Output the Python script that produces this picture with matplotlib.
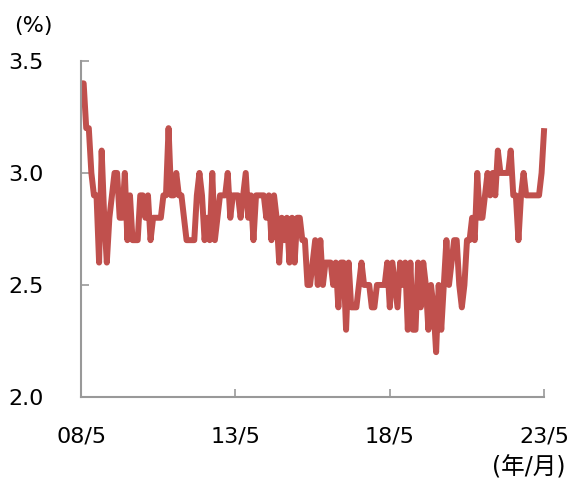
import matplotlib
matplotlib.use('Agg')
import matplotlib.pyplot as plt
import numpy as np

plt.rcParams['font.family'] = ['DejaVu Sans', 'Noto Sans CJK JP']

# monthly values, 2008/5 .. 2023/5
values = [
    3.4, 3.4, 3.2, 3.2, 3.0, 2.9, 2.9, 2.6, 3.1, 2.8,
    2.6, 2.8, 2.9, 3.0, 3.0, 2.8, 2.8, 3.0, 2.7, 2.9,
    2.7, 2.7, 2.7, 2.9, 2.9, 2.8, 2.9, 2.7, 2.8, 2.8,
    2.8, 2.8, 2.9, 2.9, 3.2, 2.9, 2.9, 3.0, 2.9, 2.9,
    2.8, 2.7, 2.7, 2.7, 2.7, 2.9, 3.0, 2.9, 2.7, 2.8,
    2.7, 3.0, 2.7, 2.8, 2.9, 2.9, 2.9, 3.0, 2.8, 2.9,
    2.9, 2.9, 2.8, 2.9, 3.0, 2.8, 2.9, 2.7, 2.9, 2.9,
    2.9, 2.9, 2.8, 2.9, 2.7, 2.9, 2.8, 2.6, 2.8, 2.7,
    2.8, 2.6, 2.8, 2.6, 2.8, 2.8, 2.7, 2.7, 2.5, 2.5,
    2.6, 2.7, 2.5, 2.7, 2.5, 2.6, 2.6, 2.6, 2.5, 2.6,
    2.4, 2.6, 2.6, 2.3, 2.6, 2.4, 2.4, 2.4, 2.5, 2.6,
    2.5, 2.5, 2.5, 2.4, 2.4, 2.5, 2.5, 2.5, 2.5, 2.6,
    2.4, 2.6, 2.5, 2.4, 2.6, 2.5, 2.6, 2.3, 2.6, 2.3,
    2.3, 2.6, 2.4, 2.6, 2.5, 2.3, 2.5, 2.4, 2.2, 2.5,
    2.3, 2.5, 2.7, 2.5, 2.6, 2.7, 2.7, 2.5, 2.4, 2.5,
    2.7, 2.7, 2.8, 2.7, 3.0, 2.8, 2.8, 2.9, 3.0, 2.9,
    3.0, 2.9, 3.1, 3.0, 3.0, 3.0, 3.0, 3.1, 2.9, 2.9,
    2.7, 2.9, 3.0, 2.9, 2.9, 2.9, 2.9, 2.9, 2.9, 3.0,
    3.2,
]
tick_pos = [0, 60, 120, 180]
tick_labels = ['08/5', '13/5', '18/5', '23/5']
y_ticks = [2.0, 2.5, 3.0, 3.5]

fig = plt.figure(figsize=(5.71, 4.8), dpi=100)
ax = fig.add_axes([0.142, 0.173, 0.811, 0.7])

x = np.arange(len(values))
ax.plot(x, values, color='#C0504D', lw=4.3, solid_joinstyle='round',
        solid_capstyle='butt', clip_on=False)

ax.set_xlim(0, 180)
ax.set_ylim(2.0, 3.5)
ax.set_xticks(tick_pos)
ax.set_xticklabels(tick_labels)
ax.set_yticks(y_ticks)
ax.set_yticklabels([f'{v:.1f}' for v in y_ticks])

for s in ['top', 'right']:
    ax.spines[s].set_visible(False)
for s in ['left', 'bottom']:
    ax.spines[s].set_color('#999999')
    ax.spines[s].set_linewidth(1.5)

ax.tick_params(axis='y', direction='in', length=6, width=1.2, color='#999999',
               labelsize=16, pad=27)
ax.tick_params(axis='x', direction='in', length=6, width=1.2, color='#999999',
               labelsize=16, pad=21)

fig.text(0.025, 0.945, '(%)', fontsize=16, va='center', ha='left')
fig.text(0.99, 0.027, '(年/月)', fontsize=17, va='center', ha='right')

fig.savefig('out.png', dpi=100)
